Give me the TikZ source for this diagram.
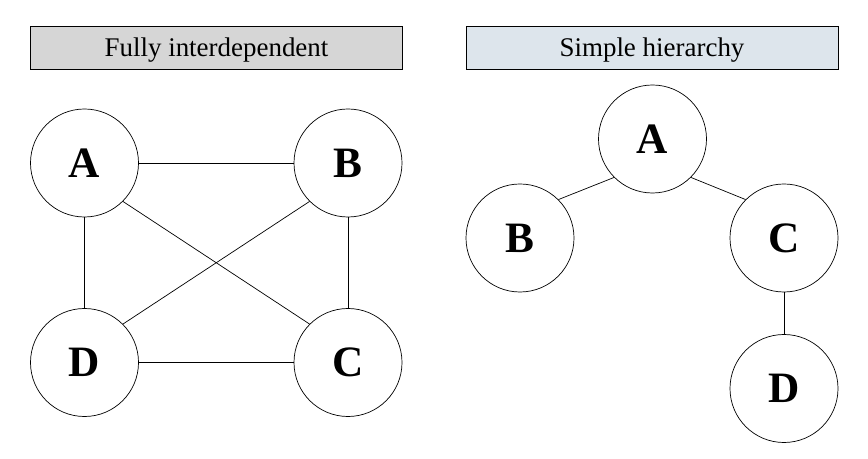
\documentclass[tikz,border=0pt]{standalone}
\usepackage{fontspec}
\setmainfont{Liberation Serif}
\usepackage{tikz}
\usetikzlibrary{positioning}
\definecolor{titlegray}{HTML}{D6D6D6}
\definecolor{titleblue}{HTML}{DDE5EC}

\begin{document}
\begin{tikzpicture}[
    x=0.03cm,
    y=-0.03cm,
    title/.style={
        rectangle,
        draw,
        minimum width=11.16cm,
        minimum height=1.29cm,
        inner sep=0pt,
        text height=19pt,
        text depth=2.8pt,
        font=\fontsize{23}{28}\selectfont
    },
    vertex/.style={
        circle,
        draw,
        minimum size=3.24cm,
        inner sep=0pt,
        font=\fontsize{37}{44}\selectfont\bfseries
    },
    every path/.style={line width=0.6pt}
]
\useasboundingbox (0,0) rectangle (868,459);

% fully interdependent
\node[title, fill=titlegray] (full) at (216.5,47.5) {Fully interdependent};
\node[vertex] (fA) at (84.5,163) {A};
\node[vertex] (fB) at (348,163) {B};
\node[vertex] (fD) at (84.5,362.5) {D};
\node[vertex] (fC) at (348,362.5) {C};
\draw (fA) -- (fB);
\draw (fA) -- (fD);
\draw (fB) -- (fC);
\draw (fD) -- (fC);
\draw (fA.south east) -- (fC.north west);
\draw (fB.south west) -- (fD.north east);

% simple hierarchy
\node[title, fill=titleblue] (hier) at (652,47.5) {Simple hierarchy};
\node[vertex] (hA) at (652.5,139) {A};
\node[vertex] (hB) at (520,238) {B};
\node[vertex] (hC) at (784,238) {C};
\node[vertex] (hD) at (784,388.5) {D};
\draw (hA.south west) -- (hB.north east);
\draw (hA.south east) -- (hC.north west);
\draw (hC) -- (hD);

\end{tikzpicture}
\end{document}
